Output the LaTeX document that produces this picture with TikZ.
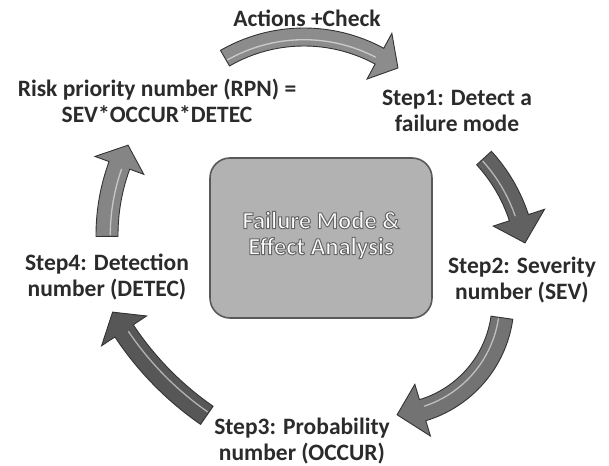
\documentclass[tikz,border=0pt]{standalone}
\usepackage{fontspec}
\setmainfont{Carlito}
\newcommand{\outlinedtext}[1]{{\special{pdf:literal direct 2 Tr 1.0 w}\color{white}\special{pdf:literal direct 0.4 G}#1\special{pdf:literal direct 0 Tr}}}
\newcommand{\curvedblock}[8]{%
 \pgfmathsetmacro{\cbo}{#2+#5}%
 \pgfmathsetmacro{\cbi}{#2-#5}%
 \pgfmathsetmacro{\cbho}{#2+#6}%
 \pgfmathsetmacro{\cbhi}{#2-#6}%
 \pgfmathsetmacro{\cbb}{#4-#7/#2*57.2958}%
 \pgfmathsetmacro{\cbm}{#2-0.3*#5}%
 \pgfmathsetmacro{\cbs}{#3+1.5/#2*57.2958}%
 \pgfmathsetmacro{\cbe}{\cbb-3/#2*57.2958}%
 \begin{scope}[shift={(#1)}]
 \path[#8] (#3:\cbo) arc[start angle=#3, end angle=\cbb, radius=\cbo] -- (\cbb:\cbho) -- (#4:#2) -- (\cbb:\cbhi) -- (\cbb:\cbi) arc[start angle=\cbb, end angle=#3, radius=\cbi] -- cycle;
 \draw[white, line width=1.3pt, opacity=0.55, line cap=round] (\cbs:\cbm) arc[start angle=\cbs, end angle=\cbe, radius=\cbm];
 \end{scope}}
\definecolor{txt}{HTML}{2B2B2B}
\tikzset{
 lbl/.style={font=\bfseries\fontsize{23.5}{26}\selectfont, text=txt, align=center, inner sep=0pt},
 blk/.style={draw=black!80, line width=0.9pt, fill=#1},
 core/.style={draw=black!65, line width=1.6pt, fill=black!30, rounded corners=20pt},
}
\begin{document}
\begin{tikzpicture}[x=1pt,y=-1pt]
\useasboundingbox (0,0) rectangle (609,465);
\fill[white] (0,0) rectangle (609,465);
% centre box
\draw[core] (210,158) rectangle (432,318);
\node[font=\bfseries\fontsize{24.5}{26}\selectfont, align=center, inner sep=0pt] (fmea) at (321,235)
 {\outlinedtext{Failure Mode \&}\\\outlinedtext{Effect Analysis}};
% labels
\node[lbl] (act) at (307,18) {Actions +Check};
\node[lbl] (rpn) at (157,101) {Risk priority number (RPN) =\\SEV*OCCUR*DETEC};
\node[lbl] (s1) at (457,111) {Step1: Detect a\\failure mode};
\node[lbl] (s2) at (522,280) {Step2: Severity\\number (SEV)};
\node[lbl] (s3) at (302,441) {Step3: Probability\\number (OCCUR)};
\node[lbl] (s4) at (107,277) {Step4: Detection\\number (DETEC)};
% arrow centres
\coordinate (c1) at (304,195);
\coordinate (c2) at (363.5,268.5);
\coordinate (c3) at (390,302);
\coordinate (c4) at (385,158);
\coordinate (c5) at (309,235);
\curvedblock{c1}{158}{-120}{-53.5}{9}{26}{22}{blk=black!45}
\curvedblock{c2}{163.5}{-42.5}{-9}{10}{27}{26}{blk=black!62}
\curvedblock{c3}{113}{8}{86.4}{11}{27}{26}{blk=black!55}
\curvedblock{c4}{313}{124.7}{150.5}{11}{27}{22}{blk=black!66}
\curvedblock{c5}{202}{179.6}{206.4}{11}{26}{22}{blk=black!48}
\end{tikzpicture}
\end{document}
